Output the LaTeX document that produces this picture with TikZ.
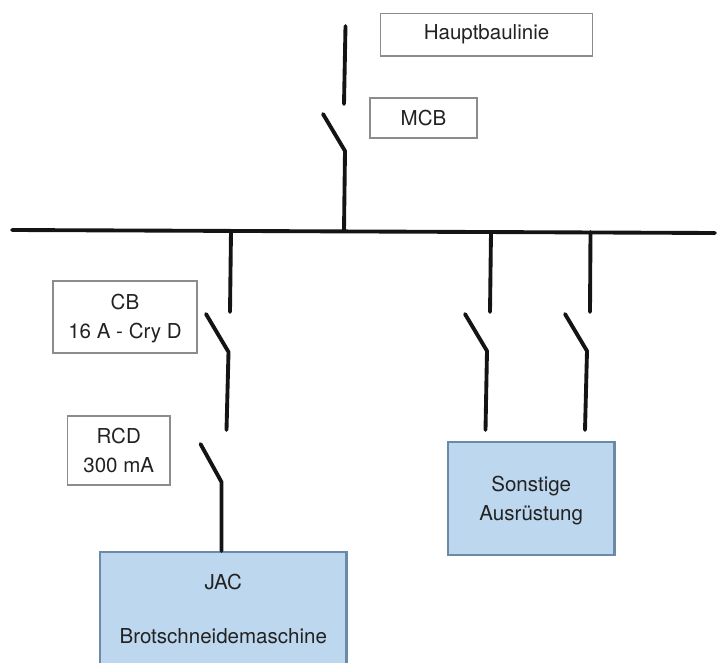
\documentclass[tikz,border=0pt]{standalone}
\usepackage{fontspec}
\setmainfont{TeX Gyre Heros}
\definecolor{txt}{HTML}{222222}
\definecolor{greyline}{HTML}{8C8C8C}
\definecolor{bluefill}{HTML}{BDD7EE}
\definecolor{blueline}{HTML}{6A8AA8}
\tikzset{
  px/.style={x=0.75pt,y=-0.75pt},
  wire/.style={draw=black!92,line width=2.9pt,line cap=round,line join=round},
  label box/.style={draw=greyline,line width=1.4pt,fill=white,text=txt,align=center,inner sep=0pt,
    font=\fontsize{15.4}{21.75}\selectfont},
  equip box/.style={draw=blueline,line width=1.6pt,fill=bluefill,text=txt,align=center,inner sep=0pt,
    font=\fontsize{15.4}{21.75}\selectfont}
}
\newcommand{\pxbox}[7]{% style, name, x1, y1, x2, y2, text
  \node[#1,minimum width={(#5-#3)*0.75pt},minimum height={(#6-#4)*0.75pt}] (#2)
    at ({(#3+#5)/2},{(#4+#6)/2}) {#7};}
\begin{document}
\begin{tikzpicture}[px]
\useasboundingbox (0,0) rectangle (721,663);
\begin{scope}
\clip (0,0) rectangle (721,663);
% boxes
\pxbox{label box}{haupt}{380.5}{13.5}{592.5}{56}{Hauptbaulinie}
\pxbox{label box}{mcb}{370}{98}{477}{138}{MCB}
\pxbox{label box}{cb}{53}{281}{197}{353}{\rule{0pt}{14.5pt}CB\\16 A - Cry D}
\pxbox{label box}{rcd}{67.5}{416}{170}{485}{RCD\\300 mA}
\pxbox{equip box}{jac}{100}{552}{346.5}{665}{\rule{0pt}{11pt}JAC\\[-1.5pt]\mbox{}\\[-1.5pt]Brotschneidemaschine}
\pxbox{equip box}{sonst}{448}{442}{614.5}{555}{\rule{0pt}{14.5pt}Sonstige\\Ausrüstung}
% bus
\coordinate (busL) at (12,230);
\coordinate (busR) at (715,233);
\draw[wire] (busL) -- (busR);
% main incomer
\coordinate (m1) at (345.5,26); \coordinate (m2) at (344,104);
\coordinate (m3) at (323,114); \coordinate (m4) at (345,151); \coordinate (m5) at (344,230.5);
\draw[wire] (m1) -- (m2);
\draw[wire] (m3) -- (m4) -- (m5);
% CB + RCD feeder
\coordinate (a1) at (231,231); \coordinate (a2) at (230,312);
\coordinate (a3) at (206,314); \coordinate (a4) at (228.5,352); \coordinate (a5) at (226.5,430);
\coordinate (a6) at (200.5,444); \coordinate (a7) at (221.5,482);
\draw[wire] (a1) -- (a2);
\draw[wire] (a3) -- (a4) -- (a5);
\draw[wire] (a6) -- (a7) -- (a7 |- jac.north);
% feeder 2
\coordinate (b1) at (491,232); \coordinate (b2) at (490,312);
\coordinate (b3) at (465,314); \coordinate (b4) at (487,351); \coordinate (b5) at (485.5,430);
\draw[wire] (b1) -- (b2);
\draw[wire] (b3) -- (b4) -- (b5);
% feeder 3
\coordinate (c1) at (590.5,232); \coordinate (c2) at (590,312);
\coordinate (c3) at (565,314); \coordinate (c4) at (587,351); \coordinate (c5) at (585,430);
\draw[wire] (c1) -- (c2);
\draw[wire] (c3) -- (c4) -- (c5);
\end{scope}
\end{tikzpicture}
\end{document}
